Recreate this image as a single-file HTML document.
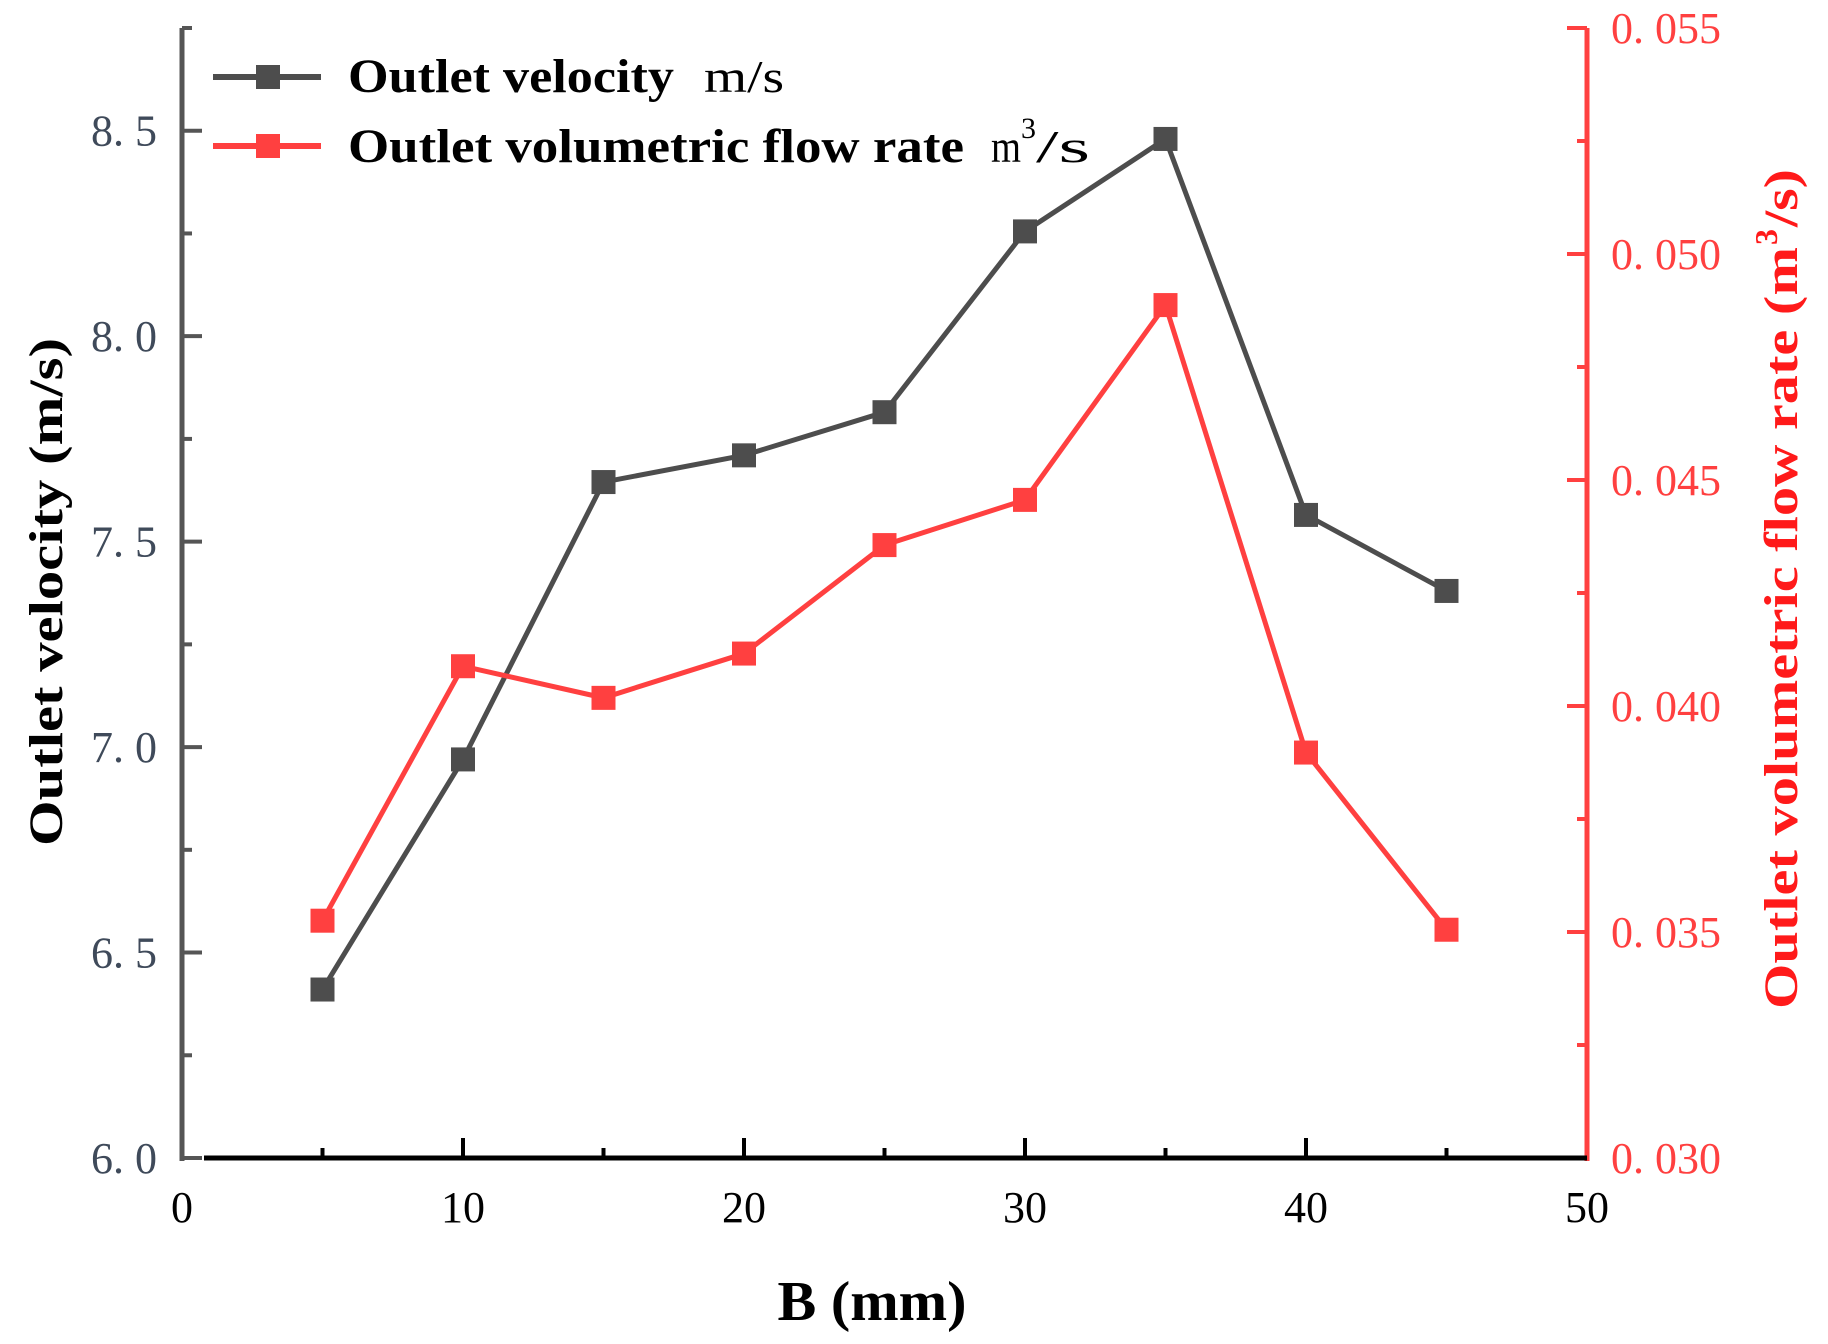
<!DOCTYPE html>
<html><head><meta charset="utf-8">
<style>
html,body{margin:0;padding:0;background:#fff;}
svg{display:block;}
text{font-family:"Liberation Serif",serif;}
</style></head>
<body>
<svg id="chart" width="1828" height="1344" viewBox="0 0 1828 1344" xmlns="http://www.w3.org/2000/svg">
<g id="axes"></g>
<g id="series"></g>
<g id="legend">
  <g>
    <line x1="213" y1="77" x2="321" y2="77" stroke="#4d4d4d" stroke-width="6"/>
    <rect x="256" y="65" width="24" height="24" fill="#4d4d4d"/>
    <text x="348" y="92" font-size="48" font-weight="bold" textLength="326" lengthAdjust="spacingAndGlyphs">Outlet velocity</text>
    <text x="704" y="92" font-size="46" textLength="80" lengthAdjust="spacingAndGlyphs">m/s</text>
  </g>
  <g>
    <line x1="213" y1="146" x2="321" y2="146" stroke="#ff4040" stroke-width="6"/>
    <rect x="256" y="134" width="24" height="24" fill="#ff4040"/>
    <text x="348" y="162" font-size="48" font-weight="bold" textLength="616" lengthAdjust="spacingAndGlyphs">Outlet volumetric flow rate</text>
    <text x="991" y="162" font-size="46" textLength="30" lengthAdjust="spacingAndGlyphs">m</text>
    <text x="1021" y="138" font-size="30">3</text>
    <text x="1036" y="162" font-size="46" textLength="54" lengthAdjust="spacingAndGlyphs">/s</text>
  </g>
</g>
<text x="872" y="1320" font-size="56" font-weight="bold" text-anchor="middle" textLength="189" lengthAdjust="spacingAndGlyphs">B (mm)</text>
<text transform="translate(62,592) rotate(-90)" font-size="48" font-weight="bold" text-anchor="middle" textLength="508" lengthAdjust="spacingAndGlyphs">Outlet velocity (m/s)</text>
<g transform="translate(1797,1009) rotate(-90)">
  <text x="0" y="0" font-size="48" font-weight="bold" fill="#ff1a1a" textLength="762" lengthAdjust="spacingAndGlyphs">Outlet volumetric flow rate (m</text>
  <text x="764" y="-20" font-size="32" font-weight="bold" fill="#ff1a1a">3</text>
  <text x="782" y="0" font-size="48" font-weight="bold" fill="#ff1a1a" textLength="58" lengthAdjust="spacingAndGlyphs">/s)</text>
</g>
</svg>
<script>
const categories = [5,10,15,20,25,30,35,40,45];
const velocity = [6.41,6.97,7.645,7.71,7.815,8.255,8.48,7.565,7.38];
const flowRate = [0.03525,0.04088,0.04018,0.04116,0.04356,0.04456,0.04887,0.03897,0.03505];
const xTicks = [0,10,20,30,40,50];
const leftTicks = ["6.0","6.5","7.0","7.5","8.0","8.5"];
const rightTicks = ["0.030","0.035","0.040","0.045","0.050","0.055"];

const NS="http://www.w3.org/2000/svg";
const X0=182, X1=1587, YB=1158, YT=28;
const xs = v => X0 + (v-0)/(50-0)*(X1-X0);
const yl = v => YB - (v-6.0)/(8.75-6.0)*(YB-YT);
const yr = v => YB - (v-0.030)/(0.055-0.030)*(YB-YT);
function mk(tag, attrs, parent){const e=document.createElementNS(NS,tag);for(const k in attrs)e.setAttribute(k,attrs[k]);parent.appendChild(e);return e;}
const axes=document.getElementById('axes');
const series=document.getElementById('series');

let la=mk('line',{x1:X0,y1:YT,x2:X0,y2:YB+3,stroke:'#555',"stroke-width":5},axes);


for(let v=6.0; v<=8.76; v+=0.25){
  const major=Math.abs(v*2-Math.round(v*2))<1e-6;
  const t=mk('line',{x1:X0,y1:yl(v),x2:X0+(major?20:10),y2:yl(v),stroke:'#555',"stroke-width":4},axes);
  
  
}
leftTicks.forEach(s=>{
  const t=mk('text',{x:157,y:yl(parseFloat(s))+15,"font-size":44,"text-anchor":"end",fill:'#3f4a5a'},axes);
  t.textContent=s.replace('.','. ');
  
  
});
let ra=mk('line',{x1:X1,y1:YT,x2:X1,y2:YB+3,stroke:'#ff4040',"stroke-width":5},axes);


for(let i=0;i<=10;i++){
  const v=0.030+i*0.0025, major=i%2===0;
  const t=mk('line',{x1:X1,y1:yr(v),x2:X1-(major?20:10),y2:yr(v),stroke:'#ff4040',"stroke-width":4},axes);
  
  
}
rightTicks.forEach(s=>{
  const t=mk('text',{x:1611,y:yr(parseFloat(s))+15,"font-size":44,fill:'#ff4040'},axes);
  t.textContent=s.replace('.','. ');
  
  
});
let ba=mk('line',{x1:204,y1:YB,x2:X1,y2:YB,stroke:'#000',"stroke-width":5},axes);


for(let v=5; v<50; v+=5){
  const major=v%10===0;
  const t=mk('line',{x1:xs(v),y1:YB,x2:xs(v),y2:YB-(major?20:10),stroke:'#000',"stroke-width":4},axes);
  
  
}
xTicks.forEach(v=>{
  const t=mk('text',{x:xs(v),y:1222,"font-size":44,"text-anchor":"middle",fill:'#000'},axes);
  t.textContent=String(v);
  
  
});

function drawSeries(vals, yfn, color, name){
  const pts=categories.map((c,i)=>xs(c)+','+yfn(vals[i])).join(' ');
  const pl=mk('polyline',{points:pts,fill:'none',stroke:color,"stroke-width":5,"stroke-linejoin":"miter"},series);
  
  
  categories.forEach((c,i)=>{
    const r=mk('rect',{x:xs(c)-12,y:yfn(vals[i])-12,width:24,height:24,fill:color},series);
    
    
  });
}
drawSeries(velocity, yl, '#4d4d4d', 'velocity');
drawSeries(flowRate, yr, '#ff4040', 'flow-rate');
</script>
</body></html>
